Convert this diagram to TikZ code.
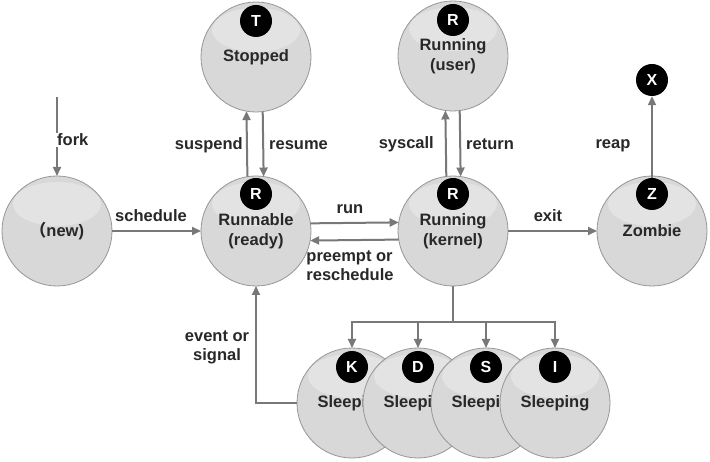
\documentclass[tikz,border=0pt]{standalone}
\usepackage{fontspec}
\setmainfont{Liberation Sans}
\newfontfamily\cjk{Noto Sans CJK SC}
\usetikzlibrary{arrows.meta,calc}
\definecolor{linegray}{RGB}{120,120,120}
\definecolor{ballfill}{RGB}{216,216,216}
\definecolor{balledge}{RGB}{150,150,150}
\definecolor{txt}{RGB}{40,40,40}
\begin{document}
\begin{tikzpicture}[x=1pt,y=-1pt,
  ball/.style={circle, minimum size=110pt, inner sep=0pt, outer sep=0pt, fill=ballfill, draw=balledge, line width=0.8pt,
    font=\bfseries\fontsize{16.5}{20}\selectfont, text=txt, align=center,
    path picture={\fill[white,opacity=0.3] ($(path picture bounding box.center)+(0pt,27pt)$) ellipse [x radius=44pt, y radius=22pt];}},
  badge/.style={circle, fill=black, minimum size=32pt, inner sep=0pt, text=white, font=\bfseries\fontsize{16}{16}\selectfont},
  conn/.style={draw=linegray, line width=2pt},
  arr/.style={conn, -{Triangle[length=9pt,width=8pt]}},
  lbl/.style={text=txt, font=\bfseries\fontsize{16.5}{19}\selectfont, inner sep=1pt},
]
\useasboundingbox[fill=white] (0,0) rectangle (710,462);

% states
\node[ball] (new) at (57,231) {{\cjk （}new)};
\node[ball] (stop) at (256,57) {Stopped};
\node[ball] (rdy) at (256,231) {Runnable\\(ready)};
\node[ball] (usr) at (453,56) {Running\\(user)};
\node[ball] (ker) at (453,231) {Running\\(kernel)};
\node[ball] (zom) at (652,231) {Zombie};
\node[ball] (k) at (352,403) {Sleeping};
\node[ball] (d) at (418,403) {Sleeping};
\node[ball] (s) at (486,403) {Sleeping};
\node[ball] (i) at (555,403) {Sleeping};

% badges
\node[badge] (bT) at ($(stop)+(0,-36)$) {T};
\node[badge] (bR1) at ($(rdy)+(0,-37)$) {R};
\node[badge] (bR2) at ($(usr)+(0,-36)$) {R};
\node[badge] (bR3) at ($(ker)+(0,-37)$) {R};
\node[badge] (bZ) at ($(zom)+(0,-37)$) {Z};
\node[badge] (bK) at ($(k)+(0,-36)$) {K};
\node[badge] (bD) at ($(d)+(0,-36)$) {D};
\node[badge] (bS) at ($(s)+(0,-36)$) {S};
\node[badge] (bI) at ($(i)+(0,-36)$) {I};
\node[badge] (X) at (652,80) {X};

% connectors
\coordinate (forkstart) at (57,97);
\draw[arr] (forkstart) -- (new.north);
\draw[arr] (new.east) -- (rdy.west);
\draw[arr] (rdy.99.4) -- (stop.260.6);
\draw[arr] (stop.277.3) -- (rdy.82.7);
\draw[arr] (rdy.8.4) -- (ker.171.6);
\draw[arr] (ker.189.4) -- (rdy.350.6);
\draw[arr] (ker.97.3) -- (usr.262.7);
\draw[arr] (usr.277.3) -- (ker.82.7);
\draw[arr] (ker.east) -- (zom.west);
\draw[arr] (bZ.north) -- (X.south);
\draw[conn] (ker.south) -- (453,322) coordinate (br);
\draw[arr] (br) -| (k.north);
\draw[arr] (br) -| (d.north);
\draw[arr] (br) -| (s.north);
\draw[arr] (br) -| (i.north);
\draw[arr] (k.west) -| (rdy.south);

% labels
\node[lbl,fill=white,anchor=west] (lfork) at (56,140) {fork};
\node[lbl] (lsched) at (151,216) {schedule};
\node[lbl,anchor=east] (lsusp) at (244,145) {suspend};
\node[lbl,anchor=west] (lres) at (268,145) {resume};
\node[lbl] (lrun) at (350,209) {run};
\node[lbl,align=left] (lpre) at (350,266) {preempt or\\reschedule};
\node[lbl,anchor=east] (lsys) at (435,144) {syscall};
\node[lbl,anchor=west] (lret) at (465,144) {return};
\node[lbl] (lexit) at (548,216) {exit};
\node[lbl] (lreap) at (613,146) {reap};
\node[lbl,align=center] (levt) at (217,347) {event or\\signal};
\end{tikzpicture}
\end{document}
